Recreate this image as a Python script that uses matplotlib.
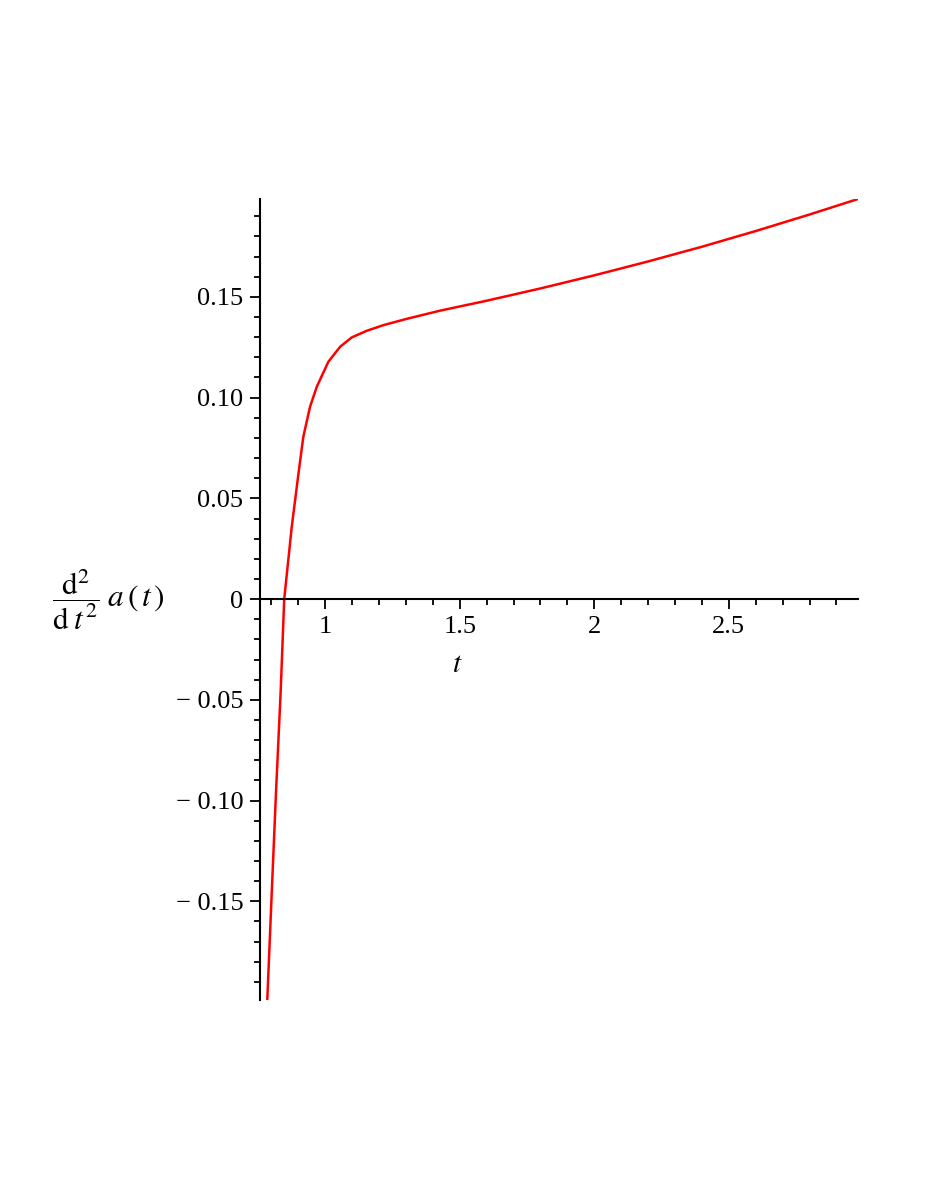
import matplotlib
matplotlib.use("Agg")
import matplotlib.pyplot as plt
from matplotlib.ticker import MultipleLocator, FixedLocator

# Values (t, d^2 a/dt^2)
t_vals = [0.785, 0.802, 0.817, 0.835, 0.848, 0.876, 0.901, 0.919, 0.944, 0.969,
          1.012, 1.056, 1.099, 1.155, 1.217, 1.30, 1.428, 1.60, 1.80, 2.00,
          2.20, 2.40, 2.60, 2.80, 2.98]
acc_vals = [-0.199, -0.1445, -0.0973, -0.0452, 0.0, 0.0359, 0.0624, 0.0806, 0.0955, 0.1054,
            0.1178, 0.1253, 0.1299, 0.1332, 0.136, 0.139, 0.1432, 0.1481, 0.1542, 0.1607,
            0.1676, 0.1749, 0.1827, 0.1909, 0.1986]

x_ticks = [1, 1.5, 2, 2.5]
x_ticklabels = ["1", "1.5", "2", "2.5"]
y_ticks = [-0.15, -0.10, -0.05, 0, 0.05, 0.10, 0.15]
y_ticklabels = ["\u2212 0.15", "\u2212 0.10", "\u2212 0.05", "0", "0.05", "0.10", "0.15"]

plt.rcParams.update({
    "font.family": ["Liberation Serif", "DejaVu Serif"],
    "mathtext.fontset": "stix",
    "font.size": 19,
})

fig = plt.figure(figsize=(9.26, 11.99), dpi=100)
ax = fig.add_axes([260 / 926, 1 - 1000 / 1199, (858 - 260) / 926, (1000 - 199) / 1199])

ax.plot(t_vals, acc_vals, color="#ff0000", lw=1.8)

ax.set_xlim(0.758, 2.98)
ax.set_ylim(-0.199, 0.1986)

ax.spines["top"].set_visible(False)
ax.spines["right"].set_visible(False)
ax.spines["bottom"].set_position(("data", 0))
for s in ("left", "bottom"):
    ax.spines[s].set_linewidth(1.5)

ax.xaxis.set_major_locator(FixedLocator(x_ticks))
ax.set_xticklabels(x_ticklabels)
ax.xaxis.set_minor_locator(MultipleLocator(0.1))
ax.yaxis.set_major_locator(FixedLocator(y_ticks))
ax.set_yticklabels(y_ticklabels)
ax.yaxis.set_minor_locator(MultipleLocator(0.01))

ax.tick_params(which="major", direction="out", length=7, width=1.3, labelsize=19, pad=5)
ax.tick_params(which="minor", direction="out", length=4.5, width=1.3)

fig.text(457 / 926, 1 - 665 / 1199, "$t$", ha="center", va="center", fontsize=21)
fig.text(52 / 926, 1 - 600 / 1199, r"$\dfrac{\mathrm{d}^2}{\mathrm{d}\;t^2}\;a\,(\,t\,)$",
         ha="left", va="center", fontsize=22.5)

fig.savefig("out.png", dpi=100)
